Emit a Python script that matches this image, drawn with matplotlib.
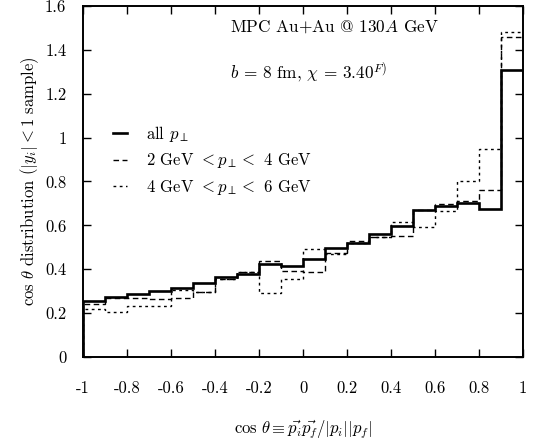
import numpy as np
import matplotlib
matplotlib.use('Agg')
import matplotlib.pyplot as plt

plt.rcParams['font.family'] = 'serif'
plt.rcParams['font.serif'] = ['cmr10', 'DejaVu Serif']
plt.rcParams['mathtext.fontset'] = 'cm'
plt.rcParams['axes.unicode_minus'] = False

# bin edges of cos(theta)
edges = np.linspace(-1.0, 1.0, 21)

# all p_perp
all_pt = [0.257, 0.272, 0.287, 0.302, 0.316, 0.336, 0.366, 0.378, 0.426, 0.416,
          0.446, 0.497, 0.518, 0.561, 0.597, 0.670, 0.688, 0.703, 0.674, 1.310]
# 2 GeV < p_perp < 4 GeV
pt_2_4 = [0.242, 0.268, 0.267, 0.266, 0.270, 0.298, 0.354, 0.387, 0.439, 0.393,
          0.389, 0.473, 0.529, 0.546, 0.550, 0.672, 0.696, 0.712, 0.761, 1.460]
# 4 GeV < p_perp < 6 GeV
pt_4_6 = [0.219, 0.204, 0.234, 0.234, 0.305, 0.298, 0.354, 0.386, 0.293, 0.357,
          0.492, 0.470, 0.520, 0.546, 0.617, 0.593, 0.665, 0.800, 0.950, 1.480]

xticks = [-1, -0.8, -0.6, -0.4, -0.2, 0, 0.2, 0.4, 0.6, 0.8, 1]
xticklabels = ['-1', '-0.8', '-0.6', '-0.4', '-0.2', '0', '0.2', '0.4', '0.6', '0.8', '1']
yticks = [0, 0.2, 0.4, 0.6, 0.8, 1.0, 1.2, 1.4, 1.6]
yticklabels = ['0', '0.2', '0.4', '0.6', '0.8', '1', '1.2', '1.4', '1.6']

fig = plt.figure(figsize=(5.38, 4.43), dpi=100)
ax = fig.add_axes([0.1543, 0.1941, 0.8178, 0.7924])

ax.stairs(all_pt, edges, color='black', lw=1.9, label=r'all $p_\perp$')
ax.stairs(pt_2_4, edges, color='black', lw=1.0, linestyle=(0, (4, 2.5)),
          label=r'2 GeV $< p_\perp <$ 4 GeV')
ax.stairs(pt_4_6, edges, color='black', lw=1.0, linestyle=(0, (2, 2.5)),
          label=r'4 GeV $< p_\perp <$ 6 GeV')

ax.set_xlim(-1, 1)
ax.set_ylim(0, 1.6)
ax.set_xticks(xticks)
ax.set_xticklabels(xticklabels)
ax.set_yticks(yticks)
ax.set_yticklabels(yticklabels)
ax.tick_params(direction='in', length=6, width=1.0, top=True, right=True,
               labelsize=12)
ax.tick_params(axis='x', pad=17)
ax.tick_params(axis='y', pad=12)
for sp in ax.spines.values():
    sp.set_linewidth(1.4)

ax.set_xlabel(r'$\cos\,\theta \equiv \vec{p_i}\vec{p_f}/|p_i||p_f|$', fontsize=12,
              labelpad=16)
ax.set_ylabel(r'$\cos\,\theta$ distribution ($|y_i| < 1$ sample)', fontsize=12,
              labelpad=3)

ax.text(0.334, 0.94, r'MPC Au+Au @ 130$A$ GeV', transform=ax.transAxes,
        fontsize=12.4, va='center', ha='left')
ax.text(0.334, 0.809, r'$b$ = 8 fm, $\chi$ = 3.40$^{F)}$', transform=ax.transAxes,
        fontsize=12.4, va='center', ha='left')

ax.legend(loc='center left', bbox_to_anchor=(0.035, 0.56), frameon=False,
          fontsize=12, handlelength=0.8, handletextpad=1.15, labelspacing=0.45)

fig.savefig('out.png', dpi=100)
